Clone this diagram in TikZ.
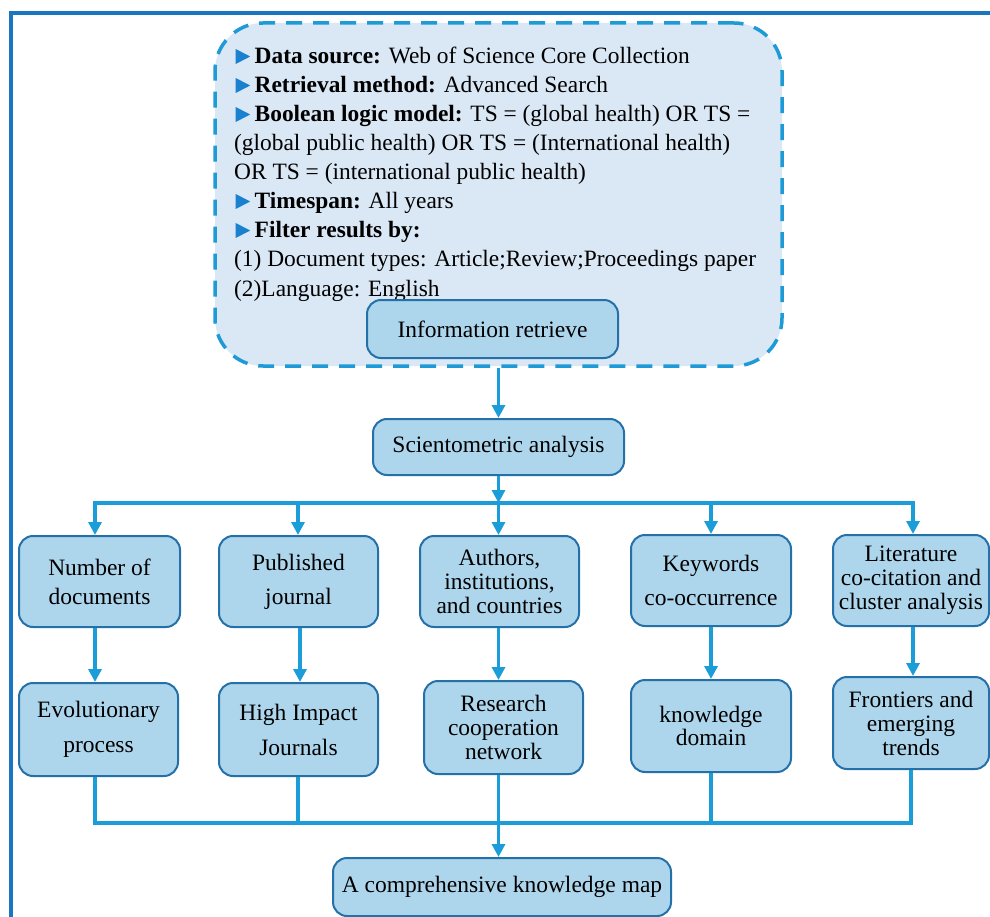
\documentclass[tikz,border=0pt]{standalone}
\usepackage{fontspec}
\setmainfont{Liberation Serif}
\usetikzlibrary{arrows.meta}
\definecolor{framec}{HTML}{1A76BE}
\definecolor{dashc}{HTML}{1E9BD7}
\definecolor{srcfill}{HTML}{DAE7F5}
\definecolor{boxfill}{HTML}{ADD6EC}
\definecolor{boxline}{HTML}{2471A9}
\definecolor{connc}{HTML}{1B9DD9}
\definecolor{bulc}{HTML}{1A80D0}
\newcommand\blt{\hspace{1.5pt}\tikz[baseline=0pt,x=1pt,y=1pt]\fill[bulc] (0,0)--(0,15)--(14.5,7.5)--cycle;\hspace{4.5pt}}
\begin{document}
\begin{tikzpicture}[x=1pt,y=-1pt,
  box/.style={draw=boxline, line width=2pt, fill=boxfill, rounded corners=14pt, align=center, inner sep=2pt},
  fs/.style={font=\fontsize{23.5}{#1}\selectfont},
  ln/.style={anchor=base west, inner sep=0pt, font=\fontsize{23.4}{29}\selectfont},
  conn/.style={draw=connc, line width=3.5pt},
  arr/.style={draw=connc, line width=3.5pt, -{Triangle[length=13pt,width=13pt]}}]
\useasboundingbox (0,0) rectangle (990,917);
% outer frame
\draw[framec, line width=4pt] (11,917) -- (11,13) -- (990,13);
% source box
\node[draw=dashc, line width=3.5pt, dash pattern=on 16pt off 11pt, fill=srcfill, rounded corners=48pt, minimum width=567pt, minimum height=343pt] (src) at (498.5,194.5) {};
\node[ln] (t1) at (234,64) {\blt\textbf{Data source:} Web of Science Core Collection};
\node[ln] (t2) at (234,93) {\blt\textbf{Retrieval method:} Advanced Search};
\node[ln] (t3) at (234,122) {\blt\textbf{Boolean logic model:} TS = (global health) OR TS =};
\node[ln] (t4) at (234,151) {(global public health) OR TS = (International health)};
\node[ln] (t5) at (234,180) {OR TS = (international public health)};
\node[ln] (t6) at (234,209) {\blt\textbf{Timespan:} All years};
\node[ln] (t7) at (234,238) {\blt\textbf{Filter results by:}};
\node[ln] (t8) at (234,267) {(1) Document types: Article;Review;Proceedings paper};
\node[ln] (t9) at (234,296) {(2)Language: English};
\node[box, fs=24, minimum width=251pt, minimum height=58pt] (info) at (492.5,329) {Information retrieve};
% analysis
\node[box, fs=24, minimum width=251pt, minimum height=56pt] (sci) at (498.5,447) {Scientometric analysis};
% row 1
\node[box, fs=29, minimum width=161pt, minimum height=91pt] (r1a) at (99.5,581.5) {Number of\\documents};
\node[box, fs=34, minimum width=159pt, minimum height=91pt] (r1b) at (298.5,581.5) {Published\\journal};
\node[box, fs=24, minimum width=159pt, minimum height=91pt] (r1c) at (499.5,581.5) {Authors,\\institutions,\\and countries};
\node[box, fs=34, minimum width=160pt, minimum height=91pt] (r1d) at (711,580.5) {Keywords\\co-occurrence};
\node[box, fs=24, minimum width=156pt, minimum height=91pt] (r1e) at (911,580.5) {Literature\\co-citation and\\cluster analysis};
% row 2
\node[box, fs=35, minimum width=159pt, minimum height=93pt] (r2a) at (98.5,729.5) {Evolutionary\\process};
\node[box, fs=35, minimum width=159pt, minimum height=93pt] (r2b) at (298.5,729.5) {High Impact\\Journals};
\node[box, fs=24, minimum width=159pt, minimum height=93pt] (r2c) at (503.5,727.5) {Research\\cooperation\\network};
\node[box, fs=20, minimum width=160pt, minimum height=92pt] (r2d) at (711,726) {knowledge\\domain};
\node[box, fs=24, minimum width=156pt, minimum height=92pt] (r2e) at (911,723) {Frontiers and\\emerging\\trends};
% final
\node[box, fs=24, minimum width=338pt, minimum height=58pt] (map) at (502,887) {A comprehensive knowledge map};
% connectors
\draw[arr] (src.south) -- (src.south |- sci.north);
\coordinate (b1) at (95,503);
\coordinate (b2) at (298,503);
\coordinate (b3) at (498.5,503);
\coordinate (b4) at (711,503);
\coordinate (b5) at (913,503);
\draw[arr] (sci.south) -- (b3);
\draw[conn] ([xshift=-1.75pt]b1) -- ([xshift=1.75pt]b5);
\draw[arr] (b1) -- (b1 |- r1a.north);
\draw[arr] (b2) -- (b2 |- r1b.north);
\draw[arr] (b3) -- (b3 |- r1c.north);
\draw[arr] (b4) -- (b4 |- r1d.north);
\draw[arr] (b5) -- (b5 |- r1e.north);
\draw[arr] (r1a.south -| b1) -- (r2a.north -| b1);
\draw[arr] (r1b.south -| 300,0) -- (r2b.north -| 300,0);
\draw[arr] (r1c.south -| b3) -- (r2c.north -| b3);
\draw[arr] (r1d.south -| b4) -- (r2d.north -| b4);
\draw[arr] (r1e.south -| b5) -- (r2e.north -| b5);
\coordinate (c1) at (95,823);
\coordinate (c2) at (298,823);
\coordinate (c3) at (498.5,823);
\coordinate (c4) at (711,823);
\coordinate (c5) at (911,823);
\draw[conn] (r2a.south -| c1) -- (c1);
\draw[conn] (r2b.south -| c2) -- (c2);
\draw[conn] (r2c.south -| c3) -- (c3);
\draw[conn] (r2d.south -| c4) -- (c4);
\draw[conn] (r2e.south -| c5) -- (c5);
\draw[draw=connc, line width=4.5pt] ([xshift=-1.75pt]c1) -- ([xshift=1.75pt]c5);
\draw[arr] (c3) -- (c3 |- map.north);
\end{tikzpicture}
\end{document}
